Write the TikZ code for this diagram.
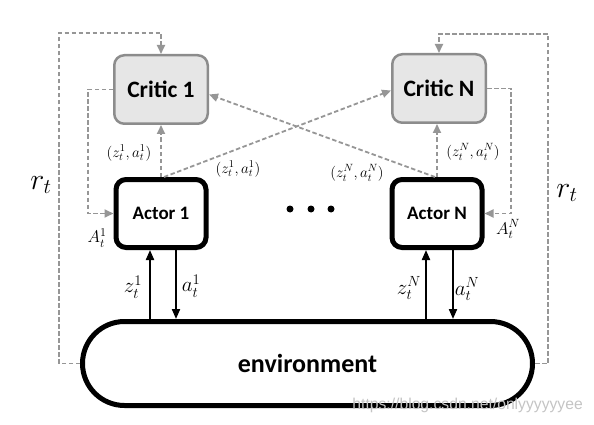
\RequirePackage{fix-cm}
\documentclass[tikz,border=0pt]{standalone}
\usepackage{fontspec}
\newfontfamily\calib{Carlito}
\newfontfamily\wmfont{Liberation Sans}
\usetikzlibrary{arrows.meta,calc}
\definecolor{critborder}{HTML}{8C8C8C}
\definecolor{critfill}{HTML}{E6E6E6}
\definecolor{dashgray}{HTML}{969696}
\definecolor{wmgray}{HTML}{C4C4C4}
\begin{document}
\begin{tikzpicture}[x=1pt,y=-1pt,
  critic/.style={draw=critborder, fill=critfill, line width=2.5pt, rounded corners=10pt,
    minimum width=93.5pt, minimum height=68.5pt, inner sep=0pt,
    font=\calib\bfseries\fontsize{23.5}{26}\selectfont},
  actor/.style={draw=black, fill=white, line width=5pt, rounded corners=10pt,
    minimum width=90pt, minimum height=68pt, inner sep=0pt,
    font=\calib\bfseries\fontsize{19}{22}\selectfont},
  envbox/.style={draw=black, fill=white, line width=5pt, rounded corners=42pt,
    minimum width=450pt, minimum height=84pt, inner sep=0pt,
    font=\calib\bfseries\fontsize{26}{29}\selectfont},
  dashline/.style={draw=dashgray, line width=1.8pt, dash pattern=on 4.5pt off 2.5pt},
  dasharrow/.style={dashline, -{Triangle[length=9pt,width=8pt,fill=dashgray]}},
  blkarrow/.style={draw=black, line width=2pt, -{Triangle[length=10pt,width=8pt]}},
  biglab/.style={font=\fontsize{21}{24}\selectfont, inner sep=0pt},
  smalllab/.style={font=\fontsize{15}{17}\selectfont, inner sep=0pt},
  rlab/.style={font=\fontsize{30}{32}\selectfont, inner sep=0pt},
  alab/.style={font=\fontsize{17}{19}\selectfont, inner sep=0pt},
  dotstyle/.style={fill=black, circle, inner sep=0pt, minimum size=7pt}
]
\useasboundingbox (0,0) rectangle (594,425);

% boxes
\node[critic] (c1) at (161,89.5) {Critic 1};
\node[critic] (cN) at (439,88.5) {Critic N};
\node[actor] (a1) at (161,213.5) {Actor 1};
\node[actor] (aN) at (437,213.5) {Actor N};
\node[envbox] (env) at (307.5,363.5) {environment};

% dots
\node[dotstyle] (d1) at (290,209) {};
\node[dotstyle] (d2) at (311,209) {};
\node[dotstyle] (d3) at (331,209) {};

% reward loops
\coordinate (tl) at (59,33);
\coordinate (tr) at (548,34);
\draw[dasharrow] (env.west) -| (tl) -| (c1.north);
\draw[dasharrow] (env.east) -| (tr) -| (cN.north);

% critic -> actor feedback
\coordinate (l1) at (88,0);
\coordinate (rN) at (511,0);
\draw[dasharrow] (c1.west) -- (c1.west -| l1) |- (a1.west);
\draw[dasharrow] (cN.east) -- (cN.east -| rN) |- (aN.east);

% actor -> critic
\draw[dasharrow] (a1.north) -- (c1.south);
\draw[dasharrow] (aN.north) -- (aN.north |- cN.south);
\draw[dasharrow] ($(a1.north)+(3,0)$) -- ($(cN.west)+(0,2)$);
\draw[dasharrow] ($(aN.north)+(-2,0)$) -- ($(c1.east)+(0,5)$);

% actor <-> environment
\coordinate (z1) at (150,0);
\coordinate (x1) at (176,0);
\coordinate (zN) at (426,0);
\coordinate (xN) at (453,0);
\draw[blkarrow] (env.north -| z1) -- (a1.south -| z1);
\draw[blkarrow] (a1.south -| x1) -- (env.north -| x1);
\draw[blkarrow] (env.north -| zN) -- (aN.south -| zN);
\draw[blkarrow] (aN.south -| xN) -- (env.north -| xN);

% labels
\node[biglab] (lz1) at (133,287) {$z_t^1$};
\node[biglab] (la1) at (191,286) {$a_t^1$};
\node[biglab] (lzN) at (409,288) {$z_t^N$};
\node[biglab] (laN) at (467,289) {$a_t^N$};

\node[smalllab] (p1a) at (129,153) {$(z_t^1,a_t^1)$};
\node[smalllab] (p1b) at (238,169) {$(z_t^1,a_t^1)$};
\node[smalllab] (pNa) at (473,152) {$(z_t^N,a_t^N)$};
\node[smalllab] (pNb) at (357,173) {$(z_t^N,a_t^N)$};

\node[alab] (A1) at (97,238) {$A_t^1$};
\node[alab] (AN) at (508,229) {$A_t^N$};

\node[rlab] (r1) at (41,185) {$r_t$};
\node[rlab] (rr) at (567,193) {$r_t$};

% watermark
\node[font=\wmfont\fontsize{15.7}{17}\selectfont, text=wmgray, anchor=east, inner sep=0pt] (wm) at (583,405) {https://blog.csdn.net/onlyyyyyyee};
\end{tikzpicture}
\end{document}
